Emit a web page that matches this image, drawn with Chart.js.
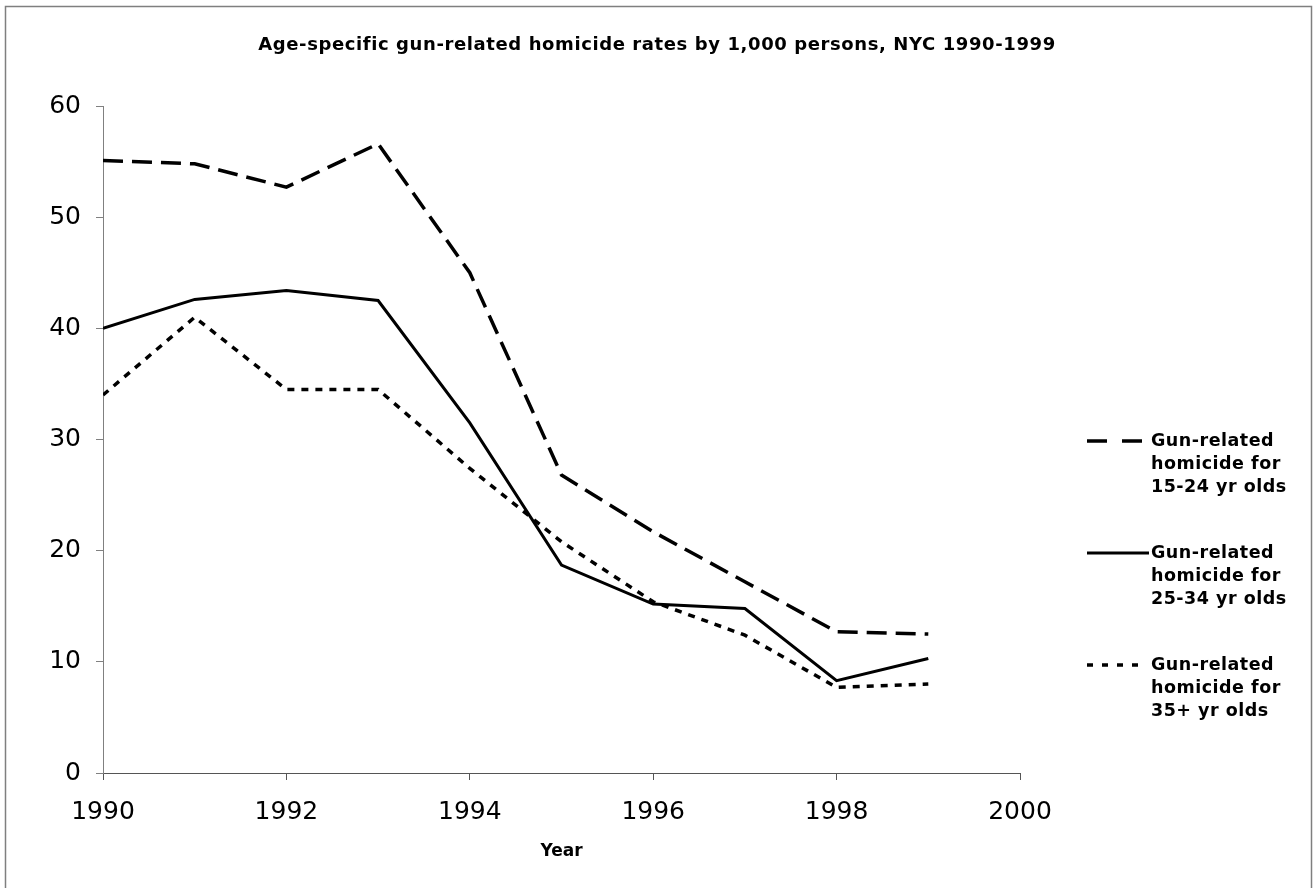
<!DOCTYPE html>
<html>
<head>
<meta charset="utf-8">
<script src="https://cdn.jsdelivr.net/npm/chart.js@4/dist/chart.umd.min.js"></script>
<style>
  html, body { margin: 0; padding: 0; background: #fff; }
  #wrap { position: relative; width: 1314px; height: 888px; }
</style>
</head>
<body>
<div id="wrap"><canvas id="c" width="1314" height="888"></canvas></div>
<script>
const titleText = 'Age-specific gun-related homicide rates by 1,000 persons, NYC 1990-1999';
const xAxisTitle = 'Year';
const years = [1990, 1991, 1992, 1993, 1994, 1995, 1996, 1997, 1998, 1999];
const age15to24 = [55.1, 54.8, 52.7, 56.6, 45.0, 26.8, 21.7, 17.2, 12.7, 12.5];
const age25to34 = [40.0, 42.6, 43.4, 42.5, 31.5, 18.7, 15.2, 14.8, 8.3, 10.3];
const age35plus = [34.0, 41.0, 34.5, 34.5, 27.4, 20.8, 15.4, 12.4, 7.7, 8.0];
const seriesLabels = [
  ['Gun-related', 'homicide for', '15-24 yr olds'],
  ['Gun-related', 'homicide for', '25-34 yr olds'],
  ['Gun-related', 'homicide for', '35+ yr olds']
];
const xTicks = ['1990', '1992', '1994', '1996', '1998', '2000'];
const yTicks = ['0', '10', '20', '30', '40', '50', '60'];
const legendDashes = [[20, 15], [], [6, 9]];

const pts = arr => arr.map((v, i) => ({ x: years[i], y: v }));

const decor = {
  id: 'decor',
  beforeDraw(chart) {
    const ctx = chart.ctx;
    ctx.save();
    ctx.fillStyle = '#fff';
    ctx.fillRect(0, 0, chart.width, chart.height);
    ctx.strokeStyle = '#7f7f7f';
    ctx.lineWidth = 1.5;
    ctx.strokeRect(5.5, 6.5, 1306, 900);
    ctx.restore();
  },
  afterDraw(chart) {
    const ctx = chart.ctx;
    ctx.save();
    ctx.fillStyle = '#000';
    ctx.textAlign = 'center';
    ctx.textBaseline = 'middle';
    ctx.font = 'bold 18px "DejaVu Sans"';
    ctx.letterSpacing = '0.6px';
    ctx.fillText(titleText, 657, 45);
    // legend
    const dsets = chart.data.datasets;
    const startY = 441, gap = 112, lh = 23;
    dsets.forEach((ds, i) => {
      const y = startY + i * gap;
      ctx.beginPath();
      ctx.setLineDash(legendDashes[i]);
      ctx.lineWidth = ds.borderWidth;
      ctx.strokeStyle = '#000';
      ctx.moveTo(1087, y);
      ctx.lineTo(i === 1 ? 1149 : 1143, y);
      ctx.stroke();
      ctx.setLineDash([]);
      ctx.font = 'bold 17.5px "DejaVu Sans"';
      ctx.letterSpacing = '0.5px';
      ctx.textAlign = 'left';
      ctx.textBaseline = 'middle';
      seriesLabels[i].forEach((t, k) => ctx.fillText(t, 1151, y + k * lh));
    });
    ctx.restore();
  }
};

new Chart(document.getElementById('c'), {
  type: 'line',
  data: {
    datasets: [
      { label: seriesLabels[0].join(' '), data: pts(age15to24), borderColor: '#000', borderWidth: 3.5, borderDash: [20, 9], pointRadius: 0, tension: 0, fill: false },
      { label: seriesLabels[1].join(' '), data: pts(age25to34), borderColor: '#000', borderWidth: 3, borderDash: [], pointRadius: 0, tension: 0, fill: false },
      { label: seriesLabels[2].join(' '), data: pts(age35plus), borderColor: '#000', borderWidth: 3.5, borderDash: [7, 7], pointRadius: 0, tension: 0, fill: false }
    ]
  },
  options: {
    responsive: false,
    animation: false,
    layout: { padding: { left: 5, top: 106, right: 294, bottom: 0 } },
    plugins: { legend: { display: false }, title: { display: false }, tooltip: { enabled: false } },
    scales: {
      x: {
        type: 'linear', min: 1990, max: 2000,
        afterFit(s) { s.height = 115; },
        afterBuildTicks(s) { s.ticks = xTicks.map(t => ({ value: Number(t) })); },
        ticks: { callback: (v, i) => xTicks[i], color: '#000', font: { family: 'DejaVu Sans', size: 25 }, padding: 17, maxRotation: 0, autoSkip: false },
        grid: { drawOnChartArea: false, drawTicks: true, tickLength: 7, color: '#555', lineWidth: 1 },
        border: { display: true, color: '#555', width: 1 },
        title: { display: true, text: xAxisTitle, color: '#000', font: { family: 'DejaVu Sans', size: 17, weight: 'bold' }, padding: { top: 0, bottom: 26 } }
      },
      y: {
        min: 0, max: 60,
        afterFit(s) { s.width = 98; },
        afterBuildTicks(s) { s.ticks = yTicks.map(t => ({ value: Number(t) })); },
        ticks: { callback: (v, i) => yTicks[i], color: '#000', font: { family: 'DejaVu Sans', size: 25 }, padding: 15, autoSkip: false },
        grid: { drawOnChartArea: false, drawTicks: true, tickLength: 7, color: '#808080', lineWidth: 1 },
        border: { display: true, color: '#808080', width: 1 }
      }
    }
  },
  plugins: [decor]
});
</script>
</body>
</html>
